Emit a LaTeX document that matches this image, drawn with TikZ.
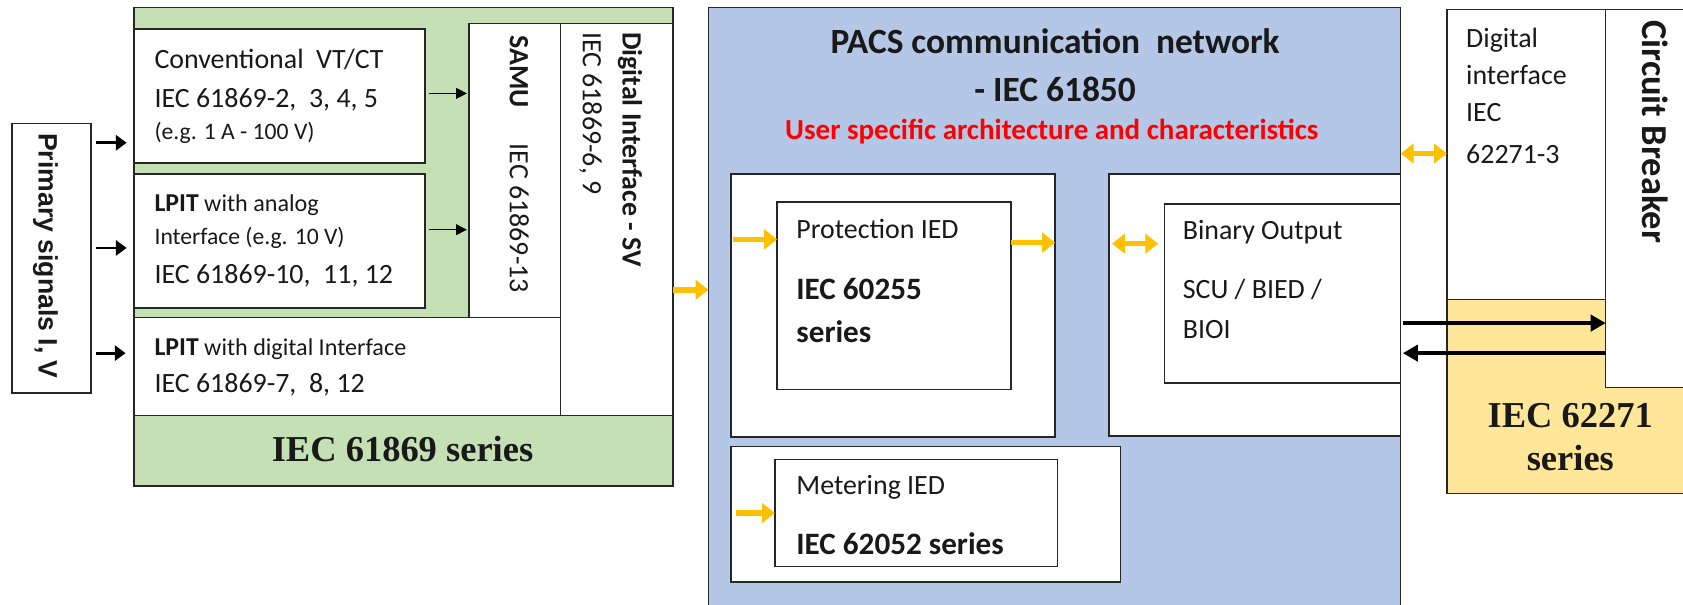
\documentclass[tikz,border=0pt]{standalone}
\usepackage{fontspec}
\setmainfont{Carlito}
\newfontfamily\tnr{Liberation Serif}
\newfontfamily\arl{Liberation Sans}
\usetikzlibrary{arrows.meta,calc}
\definecolor{grn}{HTML}{C5E0B4}
\definecolor{blu}{HTML}{B4C7E7}
\definecolor{ylw}{HTML}{FFE699}
\definecolor{arrY}{HTML}{FFC000}
\definecolor{redT}{HTML}{FF0000}
\newcommand\fsz[1]{\fontsize{#1}{#1}\selectfont}
\tikzset{
  bx/.style={draw=black!85, line width=0.7pt, anchor=north west, inner sep=0pt, outer sep=0pt},
  txt/.style={anchor=base west, inner sep=0pt, outer sep=0pt, text=black!90},
  ctxt/.style={anchor=base, inner sep=0pt, outer sep=0pt, text=black!90},
  vtxt/.style={anchor=base west, inner sep=0pt, outer sep=0pt, rotate=-90, text=black!90},
  yarr/.style={draw=arrY, line width=2.6pt, -{Triangle[length=6pt,width=9pt]}},
  ydbl/.style={draw=arrY, line width=2.6pt, {Triangle[length=6pt,width=9pt]}-{Triangle[length=6pt,width=9pt]}},
  karr/.style={draw=black, line width=1.3pt, -{Triangle[length=5pt,width=7pt]}},
  kthin/.style={draw=black, line width=0.6pt, -{Triangle[length=5pt,width=5pt]}},
  kbig/.style={draw=black, line width=2pt, -{Triangle[length=7pt,width=7.5pt]}},
}
\begin{document}
\begin{tikzpicture}[x=0.5pt,y=-0.5pt]
\useasboundingbox (0,0) rectangle (1568,563);
\clip (0,0) rectangle (1568,563);
\fill[white] (0,0) rectangle (1568,563);

% ---------- left part ----------
\node[bx, minimum width=37pt, minimum height=125.5pt] (prim) at (11,115) {};
\node[bx, fill=grn, minimum width=251pt, minimum height=223pt] (grnbox) at (125,7) {};
\node[bx, fill=white, minimum width=135.5pt, minimum height=62.5pt] (conv) at (125,27) {};
\node[bx, fill=white, minimum width=135.5pt, minimum height=62.5pt] (ana) at (125,162) {};
\node[bx, fill=white, minimum width=42.5pt, minimum height=137pt] (samu) at (437,22) {};
\node[bx, fill=white, minimum width=52.5pt, minimum height=182.5pt] (dicol) at (522,22) {};
\node[bx, fill=white, minimum width=198.5pt, minimum height=45.5pt] (dig) at (125,296) {};
\node[bx, fill=grn, minimum width=251pt, minimum height=33pt] (ser1) at (125,387) {};

\node[vtxt, font=\arl\bfseries\fsz{12.4}] (primT) at (36,124) {Primary signals I, V};

\node[txt, font=\fsz{13}] (convA) at (144,64) {Conventional\ \ VT/CT};
\node[txt, font=\fsz{13}] (convB) at (144,100) {IEC 61869-2,\ \ 3, 4, 5};
\node[txt, font=\fsz{11}] (convC) at (144,130) {(e.g. 1 A - 100 V)};

\node[txt, font=\fsz{11.25}] (anaA) at (144,197) {{\bfseries\fsz{12}LPIT} with analog};
\node[txt, font=\fsz{11}] (anaB) at (144,228) {Interface (e.g. 10 V)};
\node[txt, font=\fsz{13}] (anaC) at (144,264) {IEC 61869-10,\ \ 11, 12};

\node[txt, font=\fsz{11.25}] (digA) at (144,331) {{\bfseries\fsz{12}LPIT} with digital Interface};
\node[txt, font=\fsz{13}] (digB) at (144,366) {IEC 61869-7,\ \ 8, 12};

\node[vtxt, font=\bfseries\fsz{13}] (samuA) at (475,33) {SAMU};
\node[vtxt, font=\fsz{13}] (samuB) at (475,134) {IEC 61869-13};

\node[vtxt, font=\bfseries\fsz{13}] (diA) at (580,30) {Digital Interface - SV};
\node[vtxt, font=\fsz{13}] (diB) at (543,30) {IEC 61869-6,\ 9};

\node[ctxt, font=\tnr\bfseries\fsz{17}] (ser1T) at (375,430) {IEC 61869 series};

% ---------- middle part ----------
\node[bx, fill=blu, minimum width=322.5pt, minimum height=290pt] (blue) at (660,7) {};
\node[bx, fill=white, minimum width=151pt, minimum height=122.5pt] (pout) at (681,162) {};
\node[bx, fill=white, minimum width=109pt, minimum height=87.5pt] (pin) at (724,188) {};
\node[bx, fill=white, minimum width=136pt, minimum height=122pt] (bout) at (1033,162) {};
\node[bx, fill=white, minimum width=110pt, minimum height=83.5pt] (bin) at (1085,190) {};
\node[bx, fill=white, minimum width=181.5pt, minimum height=63pt] (mout) at (681,416) {};
\node[bx, fill=white, minimum width=131.5pt, minimum height=50pt] (min) at (722,428) {};

\node[ctxt, font=\bfseries\fsz{16.5}] (titA) at (983,50) {PACS communication\ \ network};
\node[ctxt, font=\bfseries\fsz{16.5}] (titB) at (983,95) {- IEC 61850};
\node[ctxt, font=\bfseries\fsz{13.5}, text=redT] (titC) at (980,130) {User specific architecture and characteristics};

\node[txt, font=\fsz{13}] (pA) at (742,222) {Protection IED};
\node[txt, font=\bfseries\fsz{14.5}] (pB) at (742,279) {IEC 60255};
\node[txt, font=\bfseries\fsz{14.5}] (pC) at (742,319) {series};

\node[txt, font=\fsz{13}] (bA) at (1102,223) {Binary Output};
\node[txt, font=\fsz{13}] (bB) at (1102,278) {SCU / BIED /};
\node[txt, font=\fsz{13}] (bC) at (1102,315) {BIOI};

\node[txt, font=\fsz{13}] (mA) at (742,461) {Metering IED};
\node[txt, font=\bfseries\fsz{14.5}] (mB) at (742,517) {IEC 62052 series};

% ---------- right part ----------
\node[bx, fill=ylw, minimum width=130pt, minimum height=90.5pt] (ylwbox) at (1348,279) {};
\node[bx, fill=white, minimum width=74pt, minimum height=135pt] (digif) at (1348,9) {};
\node[bx, fill=white, minimum width=50pt, minimum height=176pt] (cb) at (1496,9) {};

\node[txt, font=\fsz{13}] (dA) at (1366,44) {Digital};
\node[txt, font=\fsz{13}] (dB) at (1366,79) {interface};
\node[txt, font=\fsz{13}] (dC) at (1366,113) {IEC};
\node[txt, font=\fsz{13}] (dD) at (1366,152) {62271-3};

\node[vtxt, font=\bfseries\fsz{17}] (cbT) at (1530,19) {Circuit Breaker};

\node[ctxt, font=\tnr\bfseries\fsz{17}] (ser2A) at (1463,398) {IEC 62271};
\node[ctxt, font=\tnr\bfseries\fsz{17}] (ser2B) at (1463,438) {series};

% ---------- connectors ----------
\draw[karr, shorten <=2pt, shorten >=3.5pt] (prim.east |- 0,133) -- (conv.west |- 0,133);
\draw[karr, shorten <=2pt, shorten >=3.5pt] (prim.east |- 0,231) -- (ana.west |- 0,231);
\draw[karr, shorten <=2pt, shorten >=4pt] (prim.east |- 0,329) -- (dig.west |- 0,329);

\draw[kthin, shorten <=2pt, shorten >=1pt] (conv.east |- 0,87) -- (samu.west |- 0,87);
\draw[kthin, shorten <=2pt, shorten >=1pt] (ana.east |- 0,214) -- (samu.west |- 0,214);

\draw[yarr] (dicol.east |- 0,270) -- (blue.west |- 0,270);
\draw[yarr, shorten <=1pt] (pout.west |- 0,223) -- (pin.west |- 0,223);
\draw[yarr] (pin.east |- 0,226) -- (pout.east |- 0,226);
\draw[ydbl, shorten <=1.5pt, shorten >=3pt] (bout.west |- 0,227) -- (bin.west |- 0,227);
\draw[yarr, shorten <=2.5pt] (mout.west |- 0,478) -- (min.west |- 0,478);
\draw[ydbl] (blue.east |- 0,143) -- (digif.west |- 0,143);

\draw[kbig, shorten <=1pt] (blue.east |- 0,301) -- (cb.west |- 0,301);
\draw[kbig, shorten >=1pt] (cb.west |- 0,329) -- (blue.east |- 0,329);
\end{tikzpicture}
\end{document}
